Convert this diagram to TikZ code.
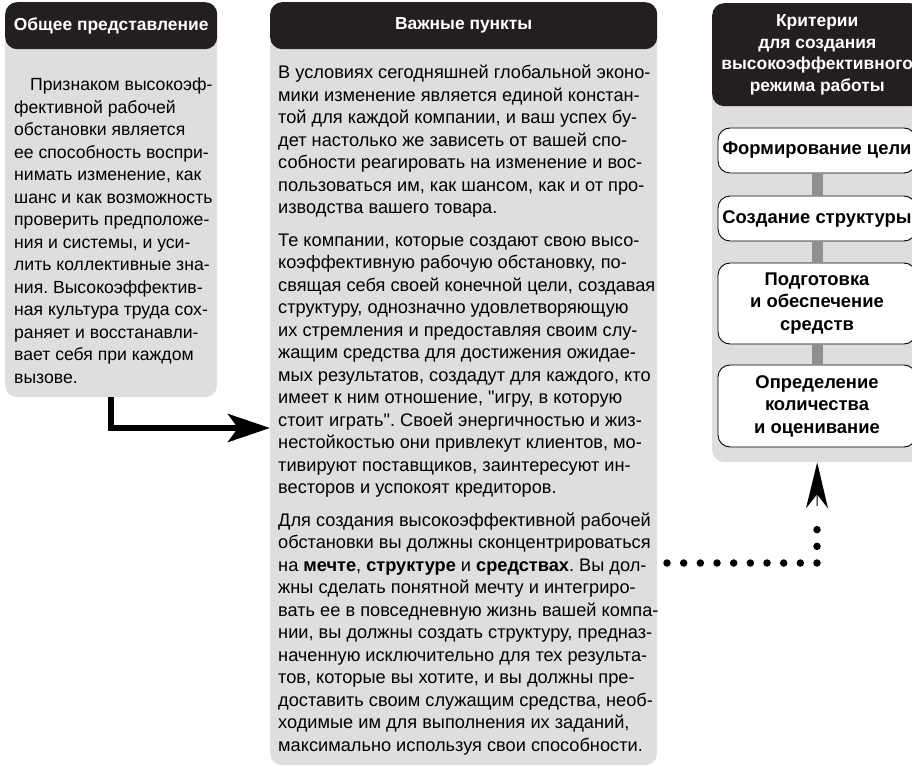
\documentclass[tikz,border=0pt]{standalone}
\usepackage{fontspec}
\setmainfont{Liberation Sans}[Ligatures=TeXOff]
\usetikzlibrary{arrows.meta}
\definecolor{panelgray}{HTML}{DDDEDF}
\definecolor{headdark}{HTML}{231F20}
\definecolor{bargray}{HTML}{8E8F91}
\frenchspacing
\begin{document}
\begin{tikzpicture}[x=1pt,y=-1pt,
  panel/.style={fill=panelgray, rounded corners=12pt, inner sep=0pt, anchor=north west},
  header/.style={fill=headdark, rounded corners=12pt, inner sep=0pt, anchor=north west, text=white, font=\fontsize{17.4}{21.7}\selectfont\bfseries, align=center},
  body/.style={inner sep=0pt, anchor=north west, align=left},
  crit/.style={draw=black, line width=0.9pt, fill=white, rounded corners=12pt, inner sep=0pt, minimum width=198pt, font=\fontsize{18.4}{22.5}\selectfont\bfseries, align=center},
  bar/.style={draw=bargray, line width=11pt},
  bigarrow/.style={draw=black, line width=6pt, -{Stealth[length=42pt,width=28pt,inset=10pt]}},
  dotline/.style={draw=black, line width=7.5pt, line cap=round, dash pattern=on 0pt off 16.667pt},
  dothead/.style={draw=black, line width=1pt, -{Stealth[length=46pt,width=22pt,inset=14pt]}}
]
\useasboundingbox (0,0) rectangle (912,767);
\begin{scope}
\clip (0,0) rectangle (912,767);
% panels
\node[panel, minimum width=212pt, minimum height=395pt] (lp) at (5,2) {};
\node[header, minimum width=212pt, minimum height=47pt] (lh) at (5,2) {Общее представление};
\node[panel, minimum width=387pt, minimum height=763pt] (mp) at (270,2) {};
\node[header, minimum width=387pt, minimum height=47pt] (mh) at (270,2) {Важные пункты};
\node[panel, minimum width=210pt, minimum height=459pt] (rp) at (712,3) {};
\node[header, minimum width=210pt, minimum height=103pt] (rh) at (712,3) {Критерии\\для создания\\высокоэффективного\\режима работы};

% left text
\node[body, font=\fontsize{17.6}{22.5}\selectfont] (lt) at (14,78) {\hspace*{16pt}Признаком высокоэф-\\
фективной рабочей\\
обстановки является\\
ее способность воспри-\\
нимать изменение, как\\
шанс и как возможность\\
проверить предположе-\\
ния и системы, и уси-\\
лить коллективные зна-\\
ния. Высокоэффектив-\\
ная культура труда сох-\\
раняет и восстанавли-\\
вает себя при каждом\\
вызове.};

% middle text
\node[body, font=\fontsize{18.2}{22.5}\selectfont] (mt) at (278,65) {В условиях сегодняшней глобальной эконо-\\
мики изменение является единой констан-\\
той для каждой компании, и ваш успех бу-\\
дет настолько же зависеть от вашей спо-\\
собности реагировать на изменение и вос-\\
пользоваться им, как шансом, как и от про-\\
изводства вашего товара.\\[10pt]
Те компании, которые создают свою высо-\\
коэффективную рабочую обстановку, по-\\
свящая себя своей конечной цели, создавая\\
структуру, однозначно удовлетворяющую\\
их стремления и предоставляя своим слу-\\
жащим средства для достижения ожидае-\\
мых результатов, создадут для каждого, кто\\
имеет к ним отношение, "игру, в которую\\
стоит играть". Своей энергичностью и жиз-\\
нестойкостью они привлекут клиентов, мо-\\
тивируют поставщиков, заинтересуют ин-\\
весторов и успокоят кредиторов.\\[10pt]
Для создания высокоэффективной рабочей\\
обстановки вы должны сконцентрироваться\\
на \textbf{мечте}, \textbf{структуре} и \textbf{средствах}. Вы дол-\\
жны сделать понятной мечту и интегриро-\\
вать ее в повседневную жизнь вашей компа-\\
нии, вы должны создать структуру, предназ-\\
наченную исключительно для тех результа-\\
тов, которые вы хотите, и вы должны пре-\\
доставить своим служащим средства, необ-\\
ходимые им для выполнения их заданий,\\
максимально используя свои способности.};

% criteria
\node[crit, minimum height=45pt] (c1) at (817,150.5) {Формирование цели};
\node[crit, minimum height=45pt] (c2) at (817,218.5) {Создание структуры};
\node[crit, minimum height=81pt] (c3) at (817,303.5) {Подготовка\\и обеспечение\\средств};
\node[crit, minimum height=82pt] (c4) at (817,406) {Определение\\количества\\и оценивание};
\draw[bar] (c1.south) -- (c2.north);
\draw[bar] (c2.south) -- (c3.north);
\draw[bar] (c3.south) -- (c4.north);

% connectors
\coordinate (atip) at (270,428);
\draw[bigarrow] (lp.south) |- (atip);

\coordinate (dstart) at (667,563);
\coordinate (dcorner) at (817,563);
\coordinate (dend) at (817,513);
\coordinate (hbase) at (817,506);
\draw[dotline] (dstart) -- (dcorner) -- (dend);
\draw[dothead] (hbase) -- (rp.south);
\end{scope}
\end{tikzpicture}
\end{document}
